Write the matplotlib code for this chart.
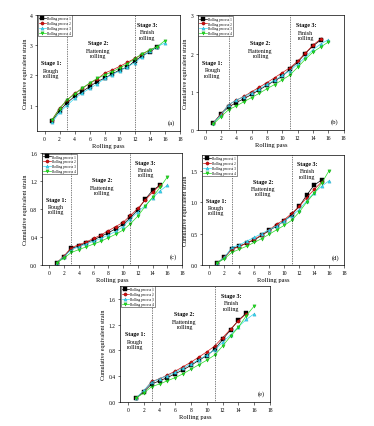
import numpy as np
import matplotlib
matplotlib.use("Agg")
import matplotlib.pyplot as plt

plt.rcParams["font.family"] = ["Liberation Serif", "DejaVu Serif"]

passes15 = list(range(1, 16))
passes16 = list(range(1, 17))

# panel (a)
a_p1 = [0.50, 0.84, 1.10, 1.31, 1.47, 1.63, 1.80, 1.91, 2.05, 2.18, 2.27, 2.48, 2.65, 2.78, 2.95]
a_p2 = [0.54, 0.92, 1.19, 1.41, 1.57, 1.74, 1.88, 2.08, 2.18, 2.30, 2.43, 2.56, 2.70, 2.84, 2.95]
a_p3 = [0.45, 0.78, 1.02, 1.24, 1.42, 1.57, 1.72, 1.90, 2.03, 2.15, 2.28, 2.42, 2.62, 2.80, 2.95, 3.07]
a_p4 = [0.54, 0.90, 1.20, 1.38, 1.58, 1.75, 1.90, 2.02, 2.12, 2.25, 2.38, 2.55, 2.72, 2.84, 2.95, 3.15]

# panel (b)
b_p1 = [0.18, 0.42, 0.60, 0.72, 0.82, 0.93, 1.05, 1.17, 1.29, 1.40, 1.60, 1.77, 2.00, 2.20, 2.35]
b_p2 = [0.18, 0.42, 0.66, 0.78, 0.88, 1.00, 1.12, 1.24, 1.37, 1.50, 1.63, 1.80, 2.01, 2.22, 2.38]
b_p3 = [0.18, 0.40, 0.66, 0.78, 0.87, 0.97, 1.07, 1.20, 1.30, 1.43, 1.55, 1.72, 1.90, 2.10, 2.25, 2.36]
b_p4 = [0.15, 0.35, 0.53, 0.63, 0.74, 0.85, 0.96, 1.08, 1.19, 1.31, 1.44, 1.64, 1.85, 2.04, 2.17, 2.30]

# panel (c)
c_p1 = [0.03, 0.12, 0.24, 0.27, 0.32, 0.36, 0.41, 0.46, 0.52, 0.58, 0.68, 0.79, 0.94, 1.07, 1.14]
c_p2 = [0.03, 0.13, 0.25, 0.29, 0.33, 0.38, 0.43, 0.49, 0.55, 0.61, 0.71, 0.81, 0.93, 1.04, 1.14]
c_p3 = [0.03, 0.12, 0.22, 0.26, 0.30, 0.34, 0.38, 0.43, 0.48, 0.55, 0.66, 0.76, 0.85, 0.96, 1.06, 1.14]
c_p4 = [0.03, 0.10, 0.18, 0.22, 0.26, 0.30, 0.34, 0.39, 0.44, 0.50, 0.59, 0.70, 0.84, 0.97, 1.11, 1.26]

# panel (d)
d_p1 = [0.03, 0.12, 0.26, 0.30, 0.35, 0.40, 0.47, 0.55, 0.62, 0.70, 0.80, 0.93, 1.11, 1.27, 1.35]
d_p2 = [0.03, 0.12, 0.25, 0.29, 0.35, 0.41, 0.48, 0.56, 0.65, 0.72, 0.82, 0.93, 1.07, 1.20, 1.32]
d_p3 = [0.03, 0.12, 0.28, 0.32, 0.38, 0.44, 0.50, 0.56, 0.62, 0.70, 0.78, 0.88, 1.02, 1.15, 1.25, 1.34]
d_p4 = [0.03, 0.10, 0.20, 0.25, 0.30, 0.36, 0.42, 0.49, 0.56, 0.63, 0.71, 0.84, 1.00, 1.14, 1.30, 1.50]

# panel (e)
e_p1 = [0.06, 0.16, 0.28, 0.33, 0.38, 0.44, 0.50, 0.57, 0.65, 0.72, 0.82, 0.97, 1.12, 1.27, 1.38]
e_p2 = [0.06, 0.17, 0.32, 0.36, 0.42, 0.48, 0.55, 0.62, 0.70, 0.78, 0.87, 1.00, 1.13, 1.26, 1.37]
e_p3 = [0.06, 0.18, 0.31, 0.36, 0.41, 0.46, 0.53, 0.59, 0.66, 0.73, 0.81, 0.93, 1.04, 1.17, 1.28, 1.37]
e_p4 = [0.06, 0.14, 0.24, 0.28, 0.33, 0.38, 0.44, 0.51, 0.58, 0.65, 0.73, 0.87, 1.02, 1.16, 1.34, 1.49]

labels = ["Rolling process 1", "Rolling process 2", "Rolling process 3", "Rolling process 4"]
colors = ["#000000", "#d01010", "#30d8f0", "#20e020"]
edges = ["#000000", "#800000", "#30a0c0", "#10a010"]
markers = ["s", "o", "^", "v"]

panels = [
    # letter, series, stage-2 end, ylim, yticks, ytick labels, rect
    ("(a)", [a_p1, a_p2, a_p3, a_p4], 12, (0.17, 4), [1, 2, 3, 4], ["1", "2", "3", "4"],
     [0.099, 0.691, 0.382, 0.272]),
    ("(b)", [b_p1, b_p2, b_p3, b_p4], 11, (0, 3), [0, 1, 2, 3], ["0", "1", "2", "3"],
     [0.529, 0.693, 0.390, 0.269]),
    ("(c)", [c_p1, c_p2, c_p3, c_p4], 11, (0, 1.6), [0, 0.4, 0.8, 1.2, 1.6],
     ["0.0", "0.4", "0.8", "1.2", "1.6"], [0.112, 0.377, 0.375, 0.262]),
    ("(d)", [d_p1, d_p2, d_p3, d_p4], 11, (0, 1.75), [0, 0.5, 1.0, 1.5],
     ["0.0", "0.5", "1.0", "1.5"], [0.540, 0.377, 0.380, 0.258]),
    ("(e)", [e_p1, e_p2, e_p3, e_p4], 11, (0, 1.8), [0, 0.4, 0.8, 1.2, 1.6],
     ["0.0", "0.4", "0.8", "1.2", "1.6"], [0.321, 0.056, 0.401, 0.272]),
]

fs = 4.3

fig = plt.figure(figsize=(3.74, 4.27), dpi=100)

for letter, series, split, ylim, yticks, yticklabels, rect in panels:
    ax = fig.add_axes(rect)
    for vals, lab, c, ec, m in zip(series, labels, colors, edges, markers):
        xs = passes15 if len(vals) == 15 else passes16
        ax.plot(xs, vals, color=c, marker=m, markersize=2.3, markeredgecolor=ec,
                markeredgewidth=0.3, linewidth=0.5, label=lab)

    ax.axvline(3, color="k", linestyle=(0, (1, 1.5)), linewidth=0.5)
    ax.axvline(split, color="k", linestyle=(0, (1, 1.5)), linewidth=0.5)

    ax.set_xlim(-1, 18)
    ax.set_ylim(*ylim)
    ax.set_xticks(range(0, 19, 2))
    ax.set_yticks(yticks)
    ax.set_yticklabels(yticklabels)
    ax.tick_params(direction="out", labelsize=fs - 0.3, width=0.4, length=1.8, pad=1.5)
    for s in ax.spines.values():
        s.set_linewidth(0.5)

    ax.set_xlabel("Rolling pass", fontsize=fs + 0.4, labelpad=1.5)
    ax.set_ylabel("Cumulative equivalent strain", fontsize=fs, labelpad=1.5)

    tr = ax.transAxes
    ax.text(0.10, 0.59, "Stage 1:", transform=tr, fontsize=fs, fontweight="bold",
            ha="center", va="center")
    ax.text(0.10, 0.50, "Rough\nrolling", transform=tr, fontsize=fs,
            ha="center", va="center", linespacing=1.1)
    ax.text(0.43, 0.76, "Stage 2:", transform=tr, fontsize=fs, fontweight="bold",
            ha="center", va="center")
    ax.text(0.43, 0.67, "Flattening\nrolling", transform=tr, fontsize=fs,
            ha="center", va="center", linespacing=1.1)
    x3 = 0.77 if split == 12 else 0.74
    ax.text(x3, 0.92, "Stage 3:", transform=tr, fontsize=fs, fontweight="bold",
            ha="center", va="center")
    ax.text(x3, 0.83, "Finish\nrolling", transform=tr, fontsize=fs,
            ha="center", va="center", linespacing=1.1)
    ax.text(0.965, 0.05, letter, transform=tr, fontsize=fs + 0.5,
            ha="right", va="bottom")

    leg = ax.legend(loc="upper left", fontsize=2.4, frameon=True, fancybox=False,
                    borderpad=0.3, labelspacing=0.25, handlelength=2.2,
                    handletextpad=0.4, borderaxespad=0.15)
    leg.get_frame().set_linewidth(0.4)
    leg.get_frame().set_edgecolor("k")

fig.savefig("out.png", dpi=100)
